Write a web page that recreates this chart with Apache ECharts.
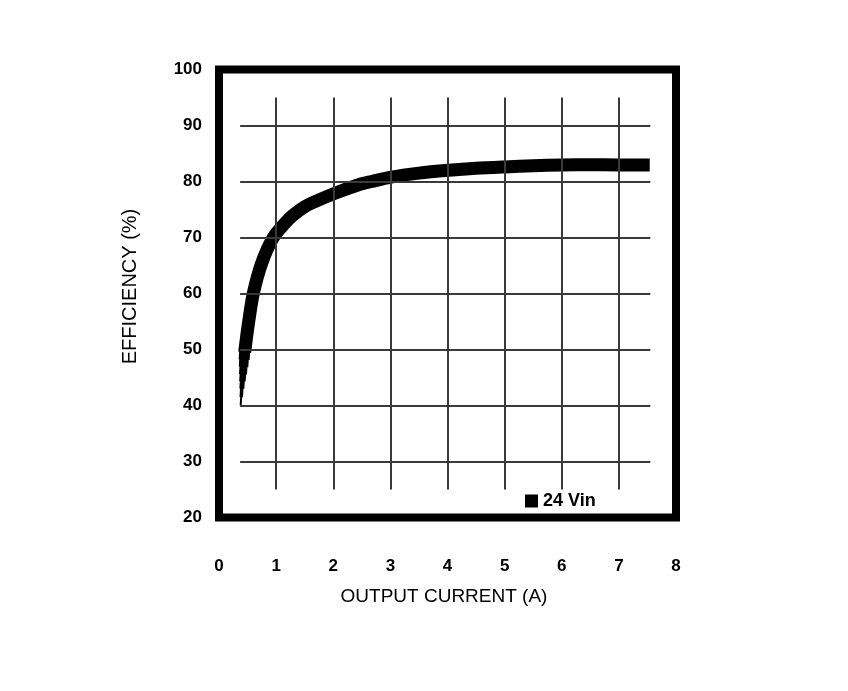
<!DOCTYPE html>
<html><head><meta charset="utf-8">
<script src="https://cdn.jsdelivr.net/npm/echarts@6/dist/echarts.min.js"></script>
<style>html,body{margin:0;padding:0;background:#fff}#c{width:848px;height:691px}</style>
</head><body><div id="c"></div>
<script>
// Data
const seriesName = '24 Vin';
const currentA = [0.45, 0.48, 0.52, 0.60, 0.75, 0.95, 1.15, 1.30, 1.50, 1.68, 2.03, 2.47, 2.67, 2.99, 3.50, 4.02, 4.50, 5.01, 5.50, 6.00, 6.50, 6.99, 7.54];
const efficiency = [49.5, 52.0, 55.0, 60.0, 65.5, 70.0, 72.5, 74.0, 75.5, 76.4, 77.9, 79.5, 80.0, 80.75, 81.5, 82.0, 82.35, 82.6, 82.8, 82.95, 83.0, 82.95, 82.95];
const taperX = [0.38, 0.39, 0.40, 0.41, 0.42, 0.43, 0.44, 0.455];
const taperY = [40.0, 41.5, 43.0, 44.3, 45.6, 46.9, 48.2, 50.0];
const xTicks = [0, 1, 2, 3, 4, 5, 6, 7, 8];
const yTicks = [20, 30, 40, 50, 60, 70, 80, 90, 100];
const vGridX = [1, 2, 3, 4, 5, 6, 7];
const vGridRange = [25, 95];
const hGridY = [30, 40, 50, 60, 70, 80, 90];
const hGridRange = [0.37, 7.55];

const font = 'Liberation Sans, Arial, sans-serif';
const taperWidths = [2, 3.5, 5, 6.5, 8, 9.5, 11];
const gridLineStyle = { color: '#3a3a3a', width: 2, type: 'solid' };
const markData = [];
vGridX.forEach(x => markData.push([{ coord: [x, vGridRange[0]] }, { coord: [x, vGridRange[1]] }]));
hGridY.forEach(y => markData.push([{ coord: [hGridRange[0], y] }, { coord: [hGridRange[1], y] }]));

const taperSeries = taperWidths.map((w, i) => ({
  type: 'line', name: 'taper' + i,
  data: [[taperX[i], taperY[i]], [taperX[i + 1], taperY[i + 1] + 0.4]],
  showSymbol: false, silent: true, lineStyle: { color: '#000', width: w, cap: 'butt' }, z: 3
}));

const chart = echarts.init(document.getElementById('c'), null, { renderer: 'canvas' });
chart.setOption({
  animation: false,
  grid: { left: 219, right: 172, top: 69.5, bottom: 173.5, show: true, borderColor: '#000', borderWidth: 8, backgroundColor: 'transparent' },
  legend: {
    data: [{ name: seriesName, icon: 'rect' }],
    left: 525, top: 492, padding: 0, itemWidth: 13, itemHeight: 13, itemGap: 4,
    textStyle: { fontFamily: font, fontSize: 18, fontWeight: 'bold', color: '#000' }
  },
  xAxis: {
    type: 'value', min: 0, max: 8, interval: 1,
    name: 'OUTPUT CURRENT (A)', nameLocation: 'middle', nameGap: 70,
    nameTextStyle: { fontFamily: font, fontSize: 19, color: '#000', padding: [0, 7, 0, 0] },
    axisLine: { show: false }, axisTick: { show: false }, splitLine: { show: false },
    axisLabel: { margin: 40, fontFamily: font, fontSize: 17, fontWeight: 'bold', color: '#000',
      formatter: v => xTicks.includes(v) ? String(v) : '' }
  },
  yAxis: {
    type: 'value', min: 20, max: 100, interval: 10,
    name: 'EFFICIENCY (%)', nameLocation: 'middle', nameGap: 79, nameRotate: 90,
    nameTextStyle: { fontFamily: font, fontSize: 20, color: '#000', padding: [0, 0, 0, 14] },
    axisLine: { show: false }, axisTick: { show: false }, splitLine: { show: false },
    axisLabel: { margin: 17, fontFamily: font, fontSize: 17, fontWeight: 'bold', color: '#000',
      formatter: v => yTicks.includes(v) ? String(v) : '' }
  },
  series: [
    {
      type: 'line', name: 'grid', data: [], silent: true,
      markLine: { silent: true, symbol: ['none', 'none'], label: { show: false }, lineStyle: gridLineStyle, data: markData, animation: false }
    },
    ...taperSeries,
    {
      type: 'line', name: seriesName, data: currentA.map((x, i) => [x, efficiency[i]]),
      showSymbol: false, smooth: 0.3, itemStyle: { color: '#000' },
      lineStyle: { color: '#000', width: 13, cap: 'butt', join: 'round' }, z: 4
    }
  ]
});
</script></body></html>
